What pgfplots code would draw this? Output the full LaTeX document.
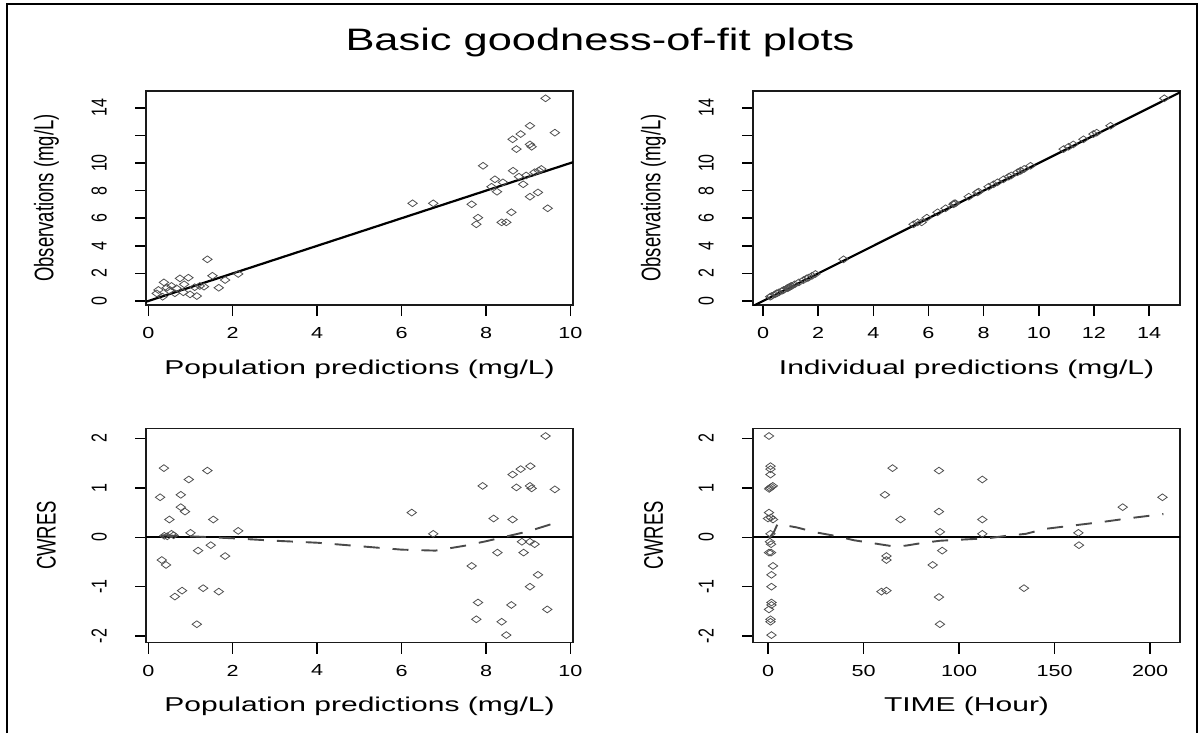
\documentclass[border=0pt]{standalone}
\usepackage{pgfplots}
\pgfplotsset{compat=1.18}
\usepackage{fontspec}
\setmainfont{Liberation Sans}
\definecolor{pt}{HTML}{505050}
\definecolor{fr}{HTML}{1A1A1A}
\definecolor{lo}{HTML}{4A4A4A}

\pgfplotsset{
  gof/.style={
    scale only axis, anchor=south west,
    axis line style={line width=1.5pt, fr},
    tick align=outside, major tick length=11pt,
    tick style={line width=1.5pt, black},
    xtick pos=bottom, ytick pos=left,
    xticklabel style={font=\fontsize{16}{16}\selectfont, xscale=1.35, inner sep=0pt, anchor=north, yshift=-11pt},
    yticklabel style={font=\fontsize{16}{16}\selectfont, xshift=-28pt, rotate=90, yscale=1.35, anchor=south, inner sep=0pt},
    xlabel style={at={(axis description cs:0.5,-0.299)}, anchor=center, font=\fontsize{20}{20}\selectfont, xscale=1.5},
    ylabel style={at={(axis description cs:-0.233,0.5)}, anchor=center, font=\fontsize{18.5}{18.5}\selectfont, yscale=1.45},
    clip=true,
  },
  obs/.style={only marks, mark=diamond, mark size=3.4pt, pt, mark options={xscale=1.85, line width=0.8pt}},
  idl/.style={line width=2.2pt, black},
  loess/.style={line width=1.9pt, lo, dash pattern=on 16pt off 13pt},
}

\begin{document}
\begin{tikzpicture}
\useasboundingbox (0,0) rectangle (1201pt,-733pt);
\draw[line width=2pt] (7pt,-733pt) -- (7pt,-4pt) -- (1197pt,-4pt) -- (1197pt,-733pt);
\node[font=\fontsize{31}{31}\selectfont, xscale=1.4] at (600pt,-42pt) {Basic goodness-of-fit plots};

% panel 1: DV vs PRED
\begin{axis}[gof, at={(146pt,-305pt)}, width=427pt, height=214pt,
  xmin=-0.054, xmax=10.06, ymin=-0.29, ymax=15.22,
  xtick={0,2,4,6,8,10}, xticklabels={0,2,4,6,8,10},
  ytick={0,2,4,6,8,10,12,14}, yticklabels={0,2,4,6,8,10,,14},
  xlabel={Population predictions (mg/L)}, ylabel={Observations (mg/L)}]
  \addplot[obs] coordinates {
    (1.40,3.02) (0.37,1.35) (0.75,1.64) (0.95,1.69) (1.52,1.83) (1.82,1.52)
    (2.13,1.96) (0.24,0.80) (0.44,0.96) (0.55,1.09) (0.67,0.92) (0.85,1.21)
    (1.22,1.09) (1.32,1.04) (1.67,0.96) (0.63,0.56) (0.83,0.63) (0.99,0.48)
    (1.15,0.36) (0.34,0.31) (0.20,0.55) (1.10,1.00) (0.50,0.75)
    (9.41,14.69) (9.04,12.70) (8.82,12.10) (8.63,11.72) (9.63,12.20) (9.04,11.35)
    (9.08,11.18) (8.72,11.01) (7.93,9.80) (8.64,9.44) (9.15,9.33) (9.31,9.57)
    (8.21,8.82) (8.78,9.01) (8.13,8.28) (8.88,8.46) (8.26,7.92) (9.23,7.87)
    (9.04,7.56) (6.26,7.08) (6.75,7.08) (7.66,7.01) (9.46,6.72) (8.60,6.43)
    (7.81,6.04) (7.77,5.56) (8.37,5.70) (8.48,5.70) (8.95,9.10) (9.25,9.45)
    (8.40,8.60)
  };
  \addplot[idl] coordinates {(-0.3,-0.3) (10.5,10.5)};
\end{axis}

% panel 2: DV vs IPRED
\begin{axis}[gof, at={(753pt,-305pt)}, width=427pt, height=214pt,
  xmin=-0.363, xmax=15.12, ymin=-0.29, ymax=15.22,
  xtick={0,2,4,6,8,10,12,14}, xticklabels={0,2,4,6,8,10,12,14},
  ytick={0,2,4,6,8,10,12,14}, yticklabels={0,2,4,6,8,10,,14},
  xlabel={Individual predictions (mg/L)}, ylabel={Observations (mg/L)}]
  \addplot[obs] coordinates {
    (2.92,3.02) (1.30,1.35) (1.58,1.64) (1.65,1.69) (1.78,1.83) (1.47,1.52)
    (1.90,1.96) (0.75,0.80) (0.90,0.96) (1.04,1.09) (0.87,0.92) (1.15,1.21)
    (1.02,1.09) (0.98,1.04) (0.92,0.96) (0.50,0.56) (0.58,0.63) (0.43,0.48)
    (0.31,0.36) (0.26,0.31) (0.50,0.55) (0.95,1.00) (0.70,0.75)
    (14.55,14.69) (12.60,12.70) (11.98,12.10) (11.62,11.72) (12.10,12.20) (11.25,11.35)
    (11.08,11.18) (10.90,11.01) (9.70,9.80) (9.34,9.44) (9.23,9.33) (9.47,9.57)
    (8.72,8.82) (8.91,9.01) (8.18,8.28) (8.36,8.46) (7.82,7.92) (7.77,7.87)
    (7.46,7.56) (6.98,7.08) (6.93,7.08) (6.91,7.01) (6.62,6.72) (6.33,6.43)
    (5.94,6.04) (5.46,5.56) (5.60,5.70) (5.75,5.70) (9.00,9.10) (9.35,9.45)
    (8.50,8.60)
  };
  \addplot[idl] coordinates {(-1,-1) (16,16)};
\end{axis}

% panel 3: CWRES vs PRED
\begin{axis}[gof, at={(146pt,-642.7pt)}, width=427pt, height=214.4pt,
  xmin=-0.054, xmax=10.06, ymin=-2.134, ymax=2.206,
  xtick={0,2,4,6,8,10}, xticklabels={0,2,4,6,8,10},
  ytick={-2,-1,0,1,2}, yticklabels={-2,-1,0,1,2},
  xlabel={Population predictions (mg/L)}, ylabel={CWRES}]
  \addplot[obs] coordinates {
    (0.37,1.40) (1.40,1.35) (0.96,1.17) (0.28,0.81) (0.77,0.86) (0.77,0.61)
    (0.87,0.52) (0.50,0.36) (1.54,0.36) (2.13,0.13) (1.00,0.09) (0.55,0.07)
    (0.38,0.03) (0.45,0.02) (0.60,0.04) (1.48,-0.16) (1.18,-0.27) (1.82,-0.38)
    (0.32,-0.46) (0.42,-0.56) (1.30,-1.03) (0.80,-1.08) (0.63,-1.20) (1.67,-1.10)
    (1.15,-1.76)
    (9.41,2.05) (9.05,1.44) (8.82,1.38) (8.63,1.27) (7.92,1.04) (8.72,1.01)
    (9.04,1.04) (9.08,0.99) (9.63,0.97) (6.24,0.50) (8.18,0.38) (8.63,0.36)
    (6.75,0.07) (8.85,-0.09) (9.04,-0.09) (9.15,-0.14) (8.27,-0.31) (8.89,-0.31)
    (7.66,-0.58) (9.23,-0.76) (9.04,-1.00) (7.81,-1.32) (8.60,-1.37) (9.45,-1.46)
    (7.77,-1.66) (8.37,-1.71) (8.48,-1.98)
  };
  \addplot[idl, line width=2pt] coordinates {(-1,0) (11,0)};
  \addplot[loess] coordinates {
    (0.30,0.04) (1.0,0.02) (2.0,-0.02) (3.0,-0.07) (4.0,-0.11) (5.0,-0.18)
    (6.0,-0.25) (6.8,-0.27) (7.5,-0.17) (8.0,-0.08) (8.5,0.02) (9.0,0.12) (9.6,0.28)
  };
\end{axis}

% panel 4: CWRES vs TIME
\begin{axis}[gof, at={(753pt,-642.7pt)}, width=427pt, height=214.4pt,
  xmin=-7.86, xmax=215.7, ymin=-2.134, ymax=2.206,
  xtick={0,50,100,150,200}, xticklabels={0,50,100,150,200},
  ytick={-2,-1,0,1,2}, yticklabels={-2,-1,0,1,2},
  xlabel={TIME (Hour)}, ylabel={CWRES}]
  \addplot[obs] coordinates {
    (0.5,2.05) (1.3,1.44) (1.3,1.38) (1.3,1.27) (1.0,1.00) (2.5,1.04) (0.6,0.98)
    (1.8,1.02) (0.5,0.50) (0.0,0.38) (2.6,0.36) (1.5,0.40) (1.3,0.07) (1.0,-0.09)
    (1.6,-0.14) (0.5,-0.31) (1.6,-0.31) (2.6,-0.58) (1.8,-0.76) (1.8,-1.00)
    (1.8,-1.32) (1.8,-1.37) (0.5,-1.46) (1.3,-1.66) (1.3,-1.71) (1.8,-1.98)
    (65.2,1.40) (61.2,0.86) (69.4,0.36) (62.0,-0.38) (62.0,-0.46) (59.4,-1.10)
    (62.0,-1.08) (89.5,1.35) (89.5,0.52) (90.0,0.11) (91.2,-0.27) (86.2,-0.56)
    (89.5,-1.21) (90.0,-1.76) (112.2,1.17) (112.2,0.36) (112.2,0.07) (134.0,-1.03)
    (162.5,0.09) (162.8,-0.16) (185.7,0.61) (206.5,0.81)
  };
  \addplot[idl, line width=2pt] coordinates {(-10,0) (220,0)};
  \addplot[loess] coordinates {
    (0.5,-0.02) (3,0.10) (5,0.27) (15,0.20) (25,0.10) (35,0.03) (45,-0.06)
    (55,-0.12) (65,-0.18) (72,-0.17) (80,-0.12) (90,-0.07) (100,-0.05) (115,-0.02)
    (125,0.03) (135,0.07) (145,0.17) (160,0.24) (175,0.31) (190,0.39) (207,0.47)
  };
\end{axis}
\end{tikzpicture}
\end{document}
